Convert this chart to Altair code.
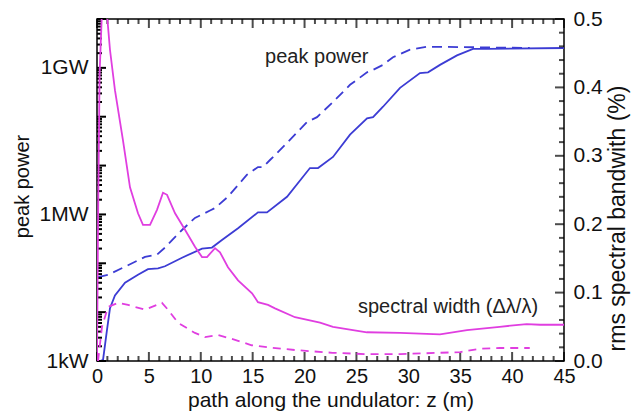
import altair as alt
import pandas as pd

# ---------------- data ----------------
# peak power, solid blue
z_power_solid = [0.3, 0.58, 0.96, 1.25, 1.73, 2.7, 3.95, 4.91, 5.88, 6.55, 8.19, 10.12, 11.08,
                 12.04, 13.59, 15.51, 16.38, 18.31, 20.52, 21.3, 22.74, 24.38, 26.02, 26.6,
                 27.56, 29.2, 31.12, 31.9, 33.05, 34.69, 36.23, 37.58, 45.0]
power_solid = [1.0e3, 1.05e3, 4.3e3, 1.2e4, 2.2e4, 4.0e4, 5.8e4, 7.6e4, 7.9e4, 8.7e4, 1.3e5,
               2.0e5, 2.1e5, 3.0e5, 5.2e5, 1.1e6, 1.1e6, 2.3e6, 8.9e6, 8.9e6, 1.5e7, 4.3e7,
               9.3e7, 9.8e7, 1.6e8, 3.9e8, 7.8e8, 8.1e8, 1.15e9, 1.8e9, 2.45e9, 2.45e9, 2.55e9]

# peak power, dashed blue
z_power_dashed = [0.1, 1.06, 2.99, 4.63, 5.78, 6.55, 8.19, 9.44, 10.89, 11.37, 12.62, 14.45,
                  15.51, 16.0, 16.67, 18.31, 20.24, 21.2, 22.74, 24.38, 26.02, 26.6, 27.56,
                  28.52, 30.16, 31.8, 33.05, 41.7]
power_dashed = [5.2e4, 5.8e4, 9.1e4, 1.35e5, 1.5e5, 2.1e5, 4.8e5, 8.5e5, 1.2e6, 1.35e6, 2.3e6,
                6.5e6, 9.3e6, 9.3e6, 1.3e7, 2.9e7, 7.8e7, 9.8e7, 2.0e8, 4.5e8, 8.1e8, 9.1e8,
                1.15e9, 1.65e9, 2.35e9, 2.7e9, 2.7e9, 2.55e9]

# spectral width, solid magenta
z_width_solid = [0.0, 0.1, 0.25, 0.45, 0.7, 1.0, 1.25, 1.73, 2.5, 3.18, 3.95, 4.43, 5.11, 5.78,
                 6.36, 6.75, 7.52, 8.48, 9.44, 10.12, 10.6, 11.37, 11.85, 12.62, 13.59, 14.94,
                 15.51, 16.48, 17.15, 19.08, 21.49, 22.74, 26.0, 29.2, 33.05, 35.65, 38.8,
                 41.4, 42.7, 45.0]
width_solid = [0.0, 0.2, 0.42, 0.5, 0.53, 0.5, 0.455, 0.396, 0.323, 0.254, 0.216, 0.199, 0.199,
               0.221, 0.246, 0.243, 0.216, 0.192, 0.167, 0.152, 0.152, 0.165, 0.159, 0.137,
               0.118, 0.099, 0.086, 0.082, 0.077, 0.064, 0.056, 0.050, 0.042, 0.041, 0.039,
               0.045, 0.050, 0.054, 0.053, 0.053]

# spectral width, dashed magenta
z_width_dashed = [0.1, 0.48, 1.06, 2.02, 2.99, 4.63, 6.26, 6.84, 7.8, 9.44, 10.4, 11.66, 13.3,
                  14.9, 16.5, 19.1, 22.7, 26.0, 29.2, 33.0, 35.0, 36.9, 38.8, 41.7]
width_dashed = [0.0, 0.050, 0.079, 0.085, 0.082, 0.075, 0.085, 0.075, 0.056, 0.041, 0.035,
                0.038, 0.031, 0.023, 0.020, 0.016, 0.012, 0.010, 0.010, 0.012, 0.013, 0.018,
                0.019, 0.019]

# axes
z_ticks = [0, 5, 10, 15, 20, 25, 30, 35, 40, 45]
power_tick_values = [1e3, 1e6, 1e9]
power_tick_labels = ["1kW", "1MW", "1GW"]
width_ticks = [0.0, 0.1, 0.2, 0.3, 0.4, 0.5]

# annotations
power_note = ["peak power"]
power_note_z = [16.2]
power_note_p = [1.26e9]
width_note = ["spectral width (\u0394\u03bb/\u03bb)"]
width_note_z = [25.15]
width_note_w = [0.070]

# ---------------- layout / style ----------------
W, H = 467, 342
BLUE = "#3c3cd4"
MAGENTA = "#e03ee0"
FONT = "Liberation Sans"
MAJ, MIN = 9, 5
TICK = dict(color="black", strokeWidth=2)

xs = alt.Scale(domain=[0, 45], nice=False, zero=False)
ps = alt.Scale(type="log", domain=[1e3, 1e10], nice=False)
bs = alt.Scale(domain=[0, 0.5], nice=False, zero=False)

x_axis = alt.Axis(values=z_ticks, title="path along the undulator: z (m)", labelFlush=False,
                  labelPadding=5, labelFontSize=20, titleY=45, titleBaseline="alphabetic",
                  titleFontSize=21)
X = alt.X("z:Q", scale=xs, axis=x_axis)

label_expr = " : ".join(
    f"datum.value == {v:g} ? '{t}'" for v, t in zip(power_tick_values, power_tick_labels)
) + " : ''"

power_axis = alt.Axis(
    orient="left", values=power_tick_values, labelExpr=label_expr, labelPadding=9,
    title="peak power", titleAngle=270, titleX=-69, titleY=167, titleAlign="center",
    titleBaseline="alphabetic", titleFontSize=20)
width_axis = alt.Axis(
    orient="right", values=width_ticks, format=".1f", labelPadding=9,
    title="rms spectral bandwith (%)", titleAngle=270, titleX=60, titleY=199,
    titleAlign="center", titleBaseline="alphabetic", titleFontSize=23)

df_ps = pd.DataFrame({"z": z_power_solid, "p": power_solid})
df_pd = pd.DataFrame({"z": z_power_dashed, "p": power_dashed})
df_ws = pd.DataFrame({"z": z_width_solid, "p": width_solid})
df_wd = pd.DataFrame({"z": z_width_dashed, "p": width_dashed})

# tick positions (inward ticks)
x_minor = [v for v in range(0, 46) if v % 5]
p_major = [10.0 ** e for e in range(3, 11)]
p_minor = [k * 10.0 ** e for e in range(3, 10) for k in range(2, 10)]
w_minor = [round(i * 0.02, 2) for i in range(26) if i % 5]


def power_group():
    Y = alt.Y("p:Q", scale=ps, axis=power_axis)
    solid = alt.Chart(df_ps).mark_line(color=BLUE, strokeWidth=1.8, clip=True).encode(x=X, y=Y)
    dashed = alt.Chart(df_pd).mark_line(color=BLUE, strokeWidth=1.8, strokeDash=[10, 6],
                                        clip=True).encode(x=X, y=Y)
    note = alt.Chart(pd.DataFrame({"t": power_note, "z": power_note_z, "p": power_note_p})
                     ).mark_text(align="left", baseline="alphabetic", font=FONT, fontSize=20,
                                 color="#222").encode(x=X, y=Y, text="t:N")
    layers = [solid, dashed, note]
    for vals, ln in [(z_ticks, MAJ), (x_minor, MIN)]:
        d = pd.DataFrame({"z": vals})
        layers.append(alt.Chart(d).mark_tick(color="black", thickness=2, size=ln,
                                             orient="vertical").encode(
            x=X, y=alt.value(H - ln / 2)))
        layers.append(alt.Chart(d).mark_tick(color="black", thickness=2, size=ln,
                                             orient="vertical").encode(
            x=X, y=alt.value(ln / 2)))
    for vals, ln in [(p_major, MAJ), (p_minor, MIN)]:
        d = pd.DataFrame({"p": vals})
        layers.append(alt.Chart(d).mark_rule(**TICK).encode(
            y=Y, x=alt.value(0), x2=alt.value(ln)))
    return alt.layer(*layers)


def width_group():
    Y = alt.Y("p:Q", scale=bs, axis=width_axis)
    solid = alt.Chart(df_ws).mark_line(color=MAGENTA, strokeWidth=1.8, clip=True).encode(x=X, y=Y)
    dashed = alt.Chart(df_wd).mark_line(color=MAGENTA, strokeWidth=1.8, strokeDash=[8, 6],
                                        clip=True).encode(x=X, y=Y)
    note = alt.Chart(pd.DataFrame({"t": width_note, "z": width_note_z, "p": width_note_w})
                     ).mark_text(align="left", baseline="alphabetic", font=FONT, fontSize=20,
                                 color="#222").encode(x=X, y=Y, text="t:N")
    layers = [solid, dashed, note]
    for vals, ln in [(width_ticks, MAJ), (w_minor, MIN)]:
        d = pd.DataFrame({"p": vals})
        layers.append(alt.Chart(d).mark_tick(color="black", thickness=2, size=ln,
                                             orient="horizontal").encode(
            y=Y, x=alt.value(W - ln / 2)))
    return alt.layer(*layers)


chart = alt.layer(power_group(), width_group()).resolve_scale(y="independent").properties(
    width=W, height=H,
    padding={"left": 97, "top": 19, "right": 69, "bottom": 51},
    autosize=alt.AutoSizeParams(type="none"),
).configure_view(stroke="black", strokeWidth=1.5).configure_axis(
    labelFont=FONT, titleFont=FONT, labelFontSize=21, labelColor="#111", titleColor="#111",
    titleFontWeight="normal", ticks=False, domain=False, grid=False,
)

chart.save("out.html", embed_options={"renderer": "svg", "actions": False})
